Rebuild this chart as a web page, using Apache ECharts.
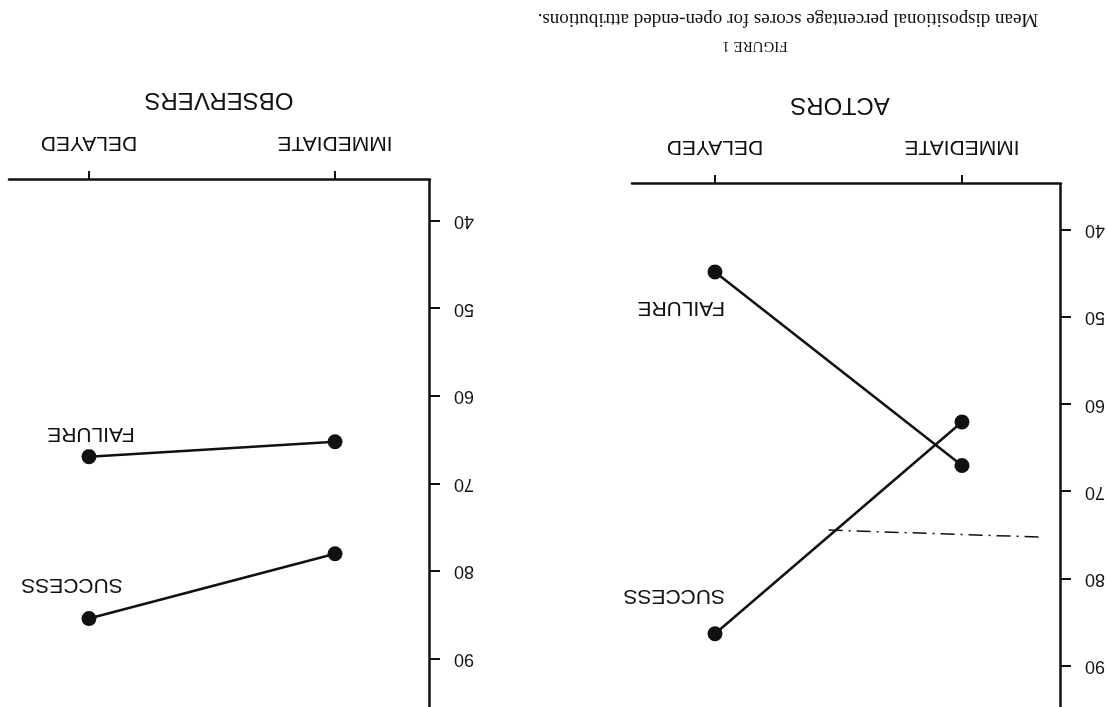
<!DOCTYPE html>
<html>
<head>
<meta charset="utf-8">
<script src="https://cdn.jsdelivr.net/npm/echarts@6/dist/echarts.min.js"></script>
<style>
  html, body { margin: 0; padding: 0; background: #fff; }
  /* the scanned figure is upside down, so the whole chart is turned round */
  #chart { width: 1107px; height: 707px; transform: rotate(180deg); }
</style>
</head>
<body>
<div id="chart"></div>
<script>
var categories = ['IMMEDIATE', 'DELAYED'];
var yTicks = [40, 50, 60, 70, 80, 90];
var actorsSuccess = [62, 86.3];
var actorsFailure = [67, 44.8];
var observersSuccess = [78, 85.4];
var observersFailure = [65.2, 66.9];
// pen stroke on the scan (x in category units, y in score)
var strokeX = [-0.31, 0.54];
var strokeY = [75.2, 74.4];

var ink = '#111';
var sans = '"Liberation Sans", Arial, sans-serif';
var serif = '"Liberation Serif", "DejaVu Serif", serif';

function pairs(xs, ys) {
    return xs.map(function (x, i) { return [x, ys[i]]; });
}

function xAxisFor(idx, min, max) {
    return {
        type: 'value', gridIndex: idx, min: min, max: max,
        axisLine: { show: true, onZero: false, lineStyle: { color: ink, width: 2.5 } },
        axisTick: { show: true, customValues: [0, 1], length: 9, lineStyle: { color: ink, width: 2 } },
        axisLabel: {
            customValues: [0, 1], margin: 27, color: ink, fontSize: 21, fontFamily: sans,
            formatter: function (v) { return categories[Math.round(v)]; }
        },
        splitLine: { show: false }
    };
}

function yAxisFor(idx, min, max) {
    return {
        type: 'value', gridIndex: idx, min: min, max: max,
        axisLine: { show: true, onZero: false, lineStyle: { color: ink, width: 2.5 } },
        axisTick: { show: true, customValues: yTicks, length: 10, lineStyle: { color: ink, width: 2 } },
        axisLabel: { customValues: yTicks, margin: 24, color: ink, fontSize: 18, fontFamily: sans },
        splitLine: { show: false }
    };
}

function lineSeries(idx, name, values, offset, align) {
    return {
        type: 'line', name: name, xAxisIndex: idx, yAxisIndex: idx,
        data: pairs([0, 1], values),
        symbol: 'circle', symbolSize: 15,
        itemStyle: { color: ink },
        lineStyle: { color: ink, width: 2.5 },
        label: {
            show: true, position: 'inside', align: align, verticalAlign: 'middle',
            offset: offset, color: ink, fontSize: 21, fontFamily: sans,
            formatter: function (p) { return p.dataIndex === 1 ? name : ''; }
        },
        animation: false
    };
}

var chart = echarts.init(document.getElementById('chart'));
window.addEventListener('resize', function () {
    chart.resize();
});

chart.setOption({
    backgroundColor: '#fff',
    grid: [
        { left: 46, top: 0, width: 429, bottom: 184, outerBoundsMode: 'none' },
        { left: 677, top: 0, right: 9, bottom: 180, outerBoundsMode: 'none' }
    ],
    xAxis: [xAxisFor(0, -0.401, 1.336), xAxisFor(1, -0.386, 1.325)],
    yAxis: [yAxisFor(0, 34.7, 94.7), yAxisFor(1, 35.3, 95.5)],
    series: [
        lineSeries(0, 'FAILURE', actorsFailure, [-10, -36], 'left'),
        lineSeries(0, 'SUCCESS', actorsSuccess, [-10, 38], 'left'),
        lineSeries(1, 'FAILURE', observersFailure, [-2, 23], 'center'),
        lineSeries(1, 'SUCCESS', observersSuccess, [17, 34], 'center'),
        {
            type: 'line', xAxisIndex: 0, yAxisIndex: 0, silent: true,
            data: pairs(strokeX, strokeY), symbol: 'none',
            lineStyle: { color: ink, width: 1.5, type: [14, 6, 2, 6] },
            animation: false
        }
    ],
    graphic: [
        { type: 'text', x: 267, y: 602, style: { text: 'ACTORS', fill: ink, font: '24px ' + sans, textAlign: 'center', textVerticalAlign: 'middle' } },
        { type: 'text', x: 888, y: 607, style: { text: 'OBSERVERS', fill: ink, font: '24px ' + sans, textAlign: 'center', textVerticalAlign: 'middle' } },
        { type: 'text', x: 352, y: 661, style: { text: 'FIGURE 1', fill: ink, font: '15px ' + serif, textAlign: 'center', textVerticalAlign: 'middle' } },
        { type: 'text', x: 319, y: 688, style: { text: 'Mean dispositional percentage scores for open-ended attributions.', fill: ink, font: '19px ' + serif, textAlign: 'center', textVerticalAlign: 'middle' } }
    ]
});
</script>
</body>
</html>
